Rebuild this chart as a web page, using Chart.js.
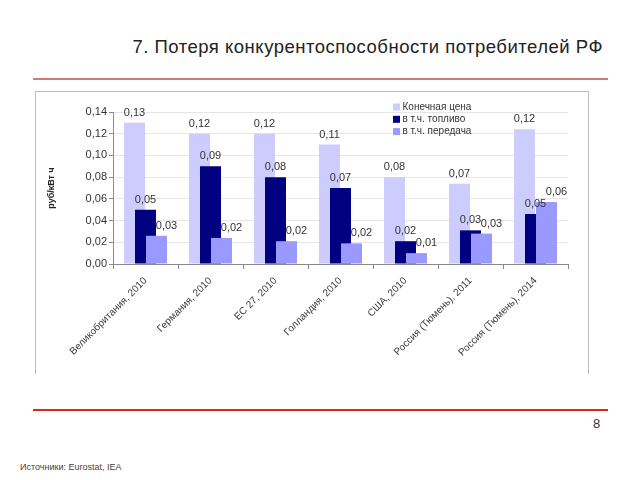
<!DOCTYPE html>
<html>
<head>
<meta charset="utf-8">
<script src="https://cdn.jsdelivr.net/npm/chart.js@4/dist/chart.umd.min.js"></script>
<style>
  html, body { margin: 0; padding: 0; background: #fff; }
  body { width: 640px; height: 480px; position: relative; overflow: hidden; font-family: "Liberation Sans", Arial, sans-serif; }
  #title { position: absolute; right: 37px; top: 36px; font-size: 18.5px; letter-spacing: 0.5px; color: #222; white-space: nowrap; }
  #line1 { position: absolute; left: 33px; width: 575px; top: 78px; height: 2px; background: #d27a70; }
  #line2 { position: absolute; left: 33px; width: 575px; top: 409px; height: 2px; background: #e02424; }
  #box { position: absolute; left: 35px; top: 91px; width: 552px; height: 282px; border: 1px solid #bdbdbd; border-bottom: none; }
  #wrap { position: absolute; left: 36px; top: 92px; width: 552px; height: 280px; }
  #page { position: absolute; left: 593px; top: 416px; font-size: 13px; color: #333; }
  #src { position: absolute; left: 20px; top: 462px; font-size: 9px; color: #444; }
</style>
</head>
<body>
<div id="title">7. Потеря конкурентоспособности потребителей РФ</div>
<div id="line1"></div>
<div id="box"></div>
<div id="wrap"><canvas id="c" width="552" height="280"></canvas></div>
<div id="line2"></div>
<div id="page">8</div>
<div id="src">Источники: Eurostat, IEA</div>
<script>
const categories = ["Великобритания, 2010", "Германия, 2010", "ЕС 27, 2010", "Голландия, 2010", "США, 2010", "Россия (Тюмень), 2011", "Россия (Тюмень), 2014"];
const seriesNames = ["Конечная цена", "в т.ч. топливо", "в т.ч. передача"];
const finalPrice = [0.130, 0.120, 0.120, 0.110, 0.080, 0.074, 0.124];
const fuel       = [0.050, 0.090, 0.080, 0.070, 0.021, 0.031, 0.046];
const transfer   = [0.026, 0.024, 0.021, 0.019, 0.010, 0.028, 0.057];
const yTicks = [0, 0.02, 0.04, 0.06, 0.08, 0.10, 0.12, 0.14];
const yTitle = "руб/кВт ч";

const colors = ["#ccccff", "#000080", "#9999ff"];
const labelDx = [0, 0, 10];
const fmt = v => v.toFixed(2).replace('.', ',');
const FONT = '"Liberation Sans", Arial, sans-serif';

const overlapPlugin = {
  id: 'overlapDraw',
  beforeDatasetsDraw(chart) {
    const ctx = chart.ctx, a = chart.chartArea;
    ctx.save();
    ctx.beginPath();
    ctx.rect(a.left, a.top - 2, a.right - a.left, a.bottom - a.top + 2);
    ctx.clip();
    chart.data.datasets.forEach((d, i) => {
      const m = chart.getDatasetMeta(i);
      if (!m.hidden) m.controller.draw();
    });
    ctx.restore();
    return false;
  },
  afterDraw(chart) {
    const ctx = chart.ctx;
    ctx.save();
    ctx.font = '11px ' + FONT;
    ctx.fillStyle = '#333';
    ctx.textAlign = 'center';
    ctx.textBaseline = 'middle';
    chart.data.datasets.forEach((d, i) => {
      const m = chart.getDatasetMeta(i);
      m.data.forEach((bar, j) => {
        ctx.fillText(fmt(d.data[j]), bar.x + labelDx[i], bar.y - 10);
      });
    });
    // legend
    ctx.font = '10px ' + FONT;
    ctx.textAlign = 'left';
    const lx = 357, ly = 15;
    seriesNames.forEach((n, i) => {
      const y = ly + i * 12.3;
      ctx.fillStyle = colors[i];
      ctx.fillRect(lx, y - 3.5, 7, 7);
      ctx.fillStyle = '#333';
      ctx.fillText(n, lx + 9.5, y);
    });
    ctx.restore();
  }
};

new Chart(document.getElementById('c'), {
  type: 'bar',
  data: {
    labels: categories,
    datasets: [
      { label: seriesNames[0], data: finalPrice, backgroundColor: colors[0] },
      { label: seriesNames[1], data: fuel, backgroundColor: colors[1] },
      { label: seriesNames[2], data: transfer, backgroundColor: colors[2] }
    ]
  },
  options: {
    responsive: false,
    animation: false,
    devicePixelRatio: 1,
    categoryPercentage: 33 / 65,
    barPercentage: 21 / 11,
    layout: { padding: { top: 20, right: 20, left: 0, bottom: 0 } },
    plugins: {
      legend: { display: false },
      tooltip: { enabled: false }
    },
    scales: {
      x: {
        offset: true,
        grid: { offset: true, drawOnChartArea: false, tickLength: 5, tickColor: '#8a8a8a' },
        border: { color: '#8a8a8a' },
        ticks: { font: { size: 10, family: FONT }, color: '#3a3a3a', minRotation: 45, maxRotation: 45, padding: 6, autoSkip: false },
        afterFit(s) { s.height = 108; }
      },
      y: {
        min: 0, max: 0.14,
        afterBuildTicks(s) { s.ticks = yTicks.map(v => ({ value: v })); },
        grid: { color: '#e6e6e6', tickLength: 4, tickColor: '#8a8a8a' },
        border: { color: '#8a8a8a' },
        ticks: { font: { size: 11, family: FONT }, color: '#333', padding: 2, callback: v => fmt(v) },
        title: { display: true, text: yTitle, font: { size: 9, weight: 'bold', family: FONT }, color: '#222', padding: { top: 10, bottom: 10 } },
        afterFit(s) { s.width = 77; }
      }
    }
  },
  plugins: [overlapPlugin]
});
</script>
</body>
</html>
